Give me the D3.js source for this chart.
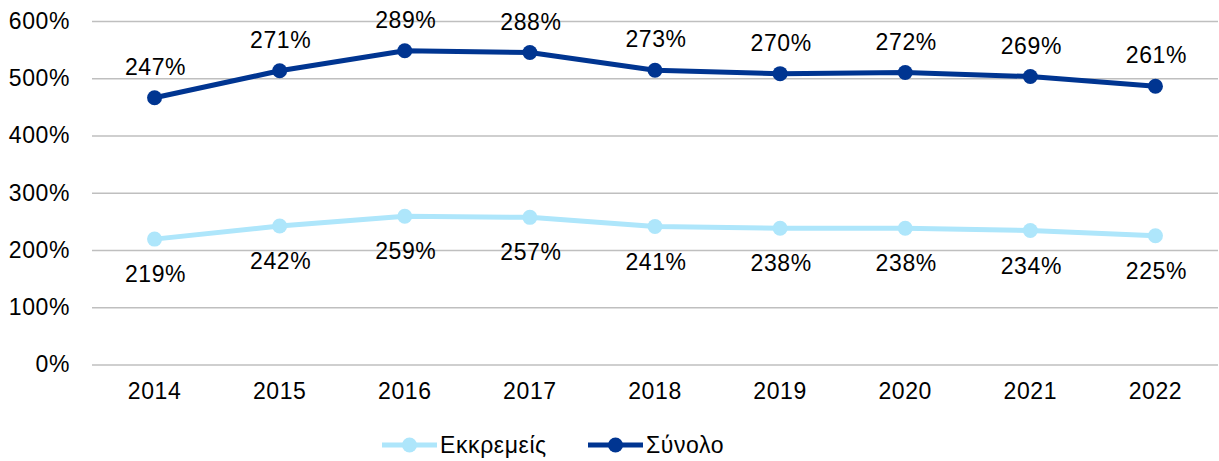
<!DOCTYPE html>
<html>
<head>
<meta charset="utf-8">
<script src="https://cdn.jsdelivr.net/npm/d3@7"></script>
<style>
  body { margin: 0; background: #fff; }
  svg text { font-family: "Liberation Sans", Arial, sans-serif; fill: #000; letter-spacing: 0.6px; }
  .grid line { stroke: #bfbfbf; stroke-width: 1.5; }
  .grid .domain, .xaxis .domain, .xaxis line { display: none; }
</style>
</head>
<body>
<div id="svgDiv"></div>
<script>
var years = ['2014', '2015', '2016', '2017', '2018', '2019', '2020', '2021', '2022'];
var pending = [219, 242, 259, 257, 241, 238, 238, 234, 225];   // Εκκρεμείς
var total = [247, 271, 289, 288, 273, 270, 272, 269, 261];     // Σύνολο (stacked on Εκκρεμείς)
var yTicks = [0, 100, 200, 300, 400, 500, 600];
var seriesNames = ['Εκκρεμείς', 'Σύνολο'];

var colors = ['#aee6fb', '#003591'];
var fontSize = '23px';

var margin = {top: 21, right: 1, bottom: 96.5, left: 92};
var W = 1219, H = 461;
var width = W - margin.left - margin.right,
    height = H - margin.top - margin.bottom;

var xScale = d3.scaleBand()
    .domain(years)
    .range([margin.left, margin.left + width])
    .padding(0);

var yScale = d3.scaleLinear()
    .domain([0, 600])
    .range([margin.top + height, margin.top]);

var svg = d3.select('#svgDiv').append('svg')
    .attr('width', W)
    .attr('height', H);

// gridlines + y labels
var yAxis = d3.axisLeft(yScale)
    .tickValues(yTicks)
    .tickSize(-width)
    .tickPadding(22)
    .tickFormat(function(d) { return d + '%'; });

var gy = svg.append('g')
    .attr('class', 'grid')
    .attr('transform', 'translate(' + margin.left + ',0)')
    .call(yAxis);
gy.selectAll('text').style('font-size', fontSize);

var xAxis = d3.axisBottom(xScale).tickSize(0).tickPadding(18);
var gx = svg.append('g')
    .attr('class', 'xaxis')
    .attr('transform', 'translate(0,' + (margin.top + height) + ')')
    .call(xAxis);
gx.selectAll('text').style('font-size', fontSize);

function cx(i) { return xScale(years[i]) + xScale.bandwidth() / 2; }

var pts1 = pending.map(function(v, i) { return {x: cx(i), y: yScale(v), label: v}; });
var pts2 = total.map(function(v, i) { return {x: cx(i), y: yScale(v + pending[i]), label: v}; });

var line = d3.line().x(function(d) { return d.x; }).y(function(d) { return d.y; });

[pts1, pts2].forEach(function(pts, k) {
  svg.append('path')
    .datum(pts)
    .attr('d', line)
    .attr('fill', 'none')
    .attr('stroke', colors[k])
    .attr('stroke-width', 5)
    .attr('stroke-linejoin', 'round');

  svg.selectAll('circle.s' + k)
    .data(pts)
    .enter()
    .append('circle')
    .attr('class', 's' + k)
    .attr('cx', function(d) { return d.x; })
    .attr('cy', function(d) { return d.y; })
    .attr('r', 7.5)
    .attr('fill', colors[k]);

  svg.selectAll('text.l' + k)
    .data(pts)
    .enter()
    .append('text')
    .attr('class', 'l' + k)
    .attr('x', function(d) { return d.x + 1; })
    .attr('y', function(d) { return k == 0 ? d.y + 35 : d.y - 31; })
    .attr('dy', '0.35em')
    .attr('text-anchor', 'middle')
    .style('font-size', fontSize)
    .text(function(d) { return d.label + '%'; });
});

// legend
var legendX = [382, 588];
var legend = svg.selectAll('g.legend')
    .data(seriesNames)
    .enter()
    .append('g')
    .attr('class', 'legend')
    .attr('transform', function(d, i) { return 'translate(' + legendX[i] + ',445)'; });

legend.append('line')
    .attr('x1', 0).attr('x2', 55)
    .attr('stroke', function(d, i) { return colors[i]; })
    .attr('stroke-width', 5);
legend.append('circle')
    .attr('cx', 27.5)
    .attr('r', 7.5)
    .attr('fill', function(d, i) { return colors[i]; });
legend.append('text')
    .attr('x', 58)
    .attr('dy', '0.35em')
    .style('font-size', fontSize)
    .text(function(d) { return d; });
</script>
</body>
</html>
